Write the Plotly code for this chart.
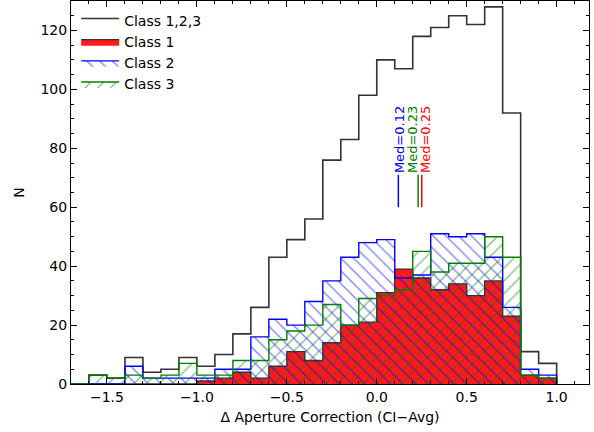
import plotly.graph_objects as go

# ---- data ----
bin_edges = [-1.7, -1.6, -1.5, -1.4, -1.3, -1.2, -1.1, -1.0, -0.9, -0.8, -0.7,
             -0.6, -0.5, -0.4, -0.3, -0.2, -0.1, 0.0, 0.1, 0.2, 0.3, 0.4,
             0.5, 0.6, 0.7, 0.8, 0.9, 1.0]
counts_all = [0, 3, 2, 9, 4, 5, 9, 6, 10, 17, 26, 43, 49, 56, 76, 83, 98, 110,
              107, 118, 121, 125, 122, 128, 92, 11, 7]
counts_c1 = [0, 0, 0, 0, 0, 0, 0, 1, 2, 4, 2, 6, 11, 8, 14, 20, 21, 31, 39, 36,
             32, 34, 30, 35, 23, 3, 2]
counts_c2 = [0, 0, 0, 6, 2, 2, 2, 2, 5, 5, 16, 22, 20, 28, 35, 43, 48, 49, 36,
             37, 51, 50, 51, 43, 26, 5, 3]
counts_c3 = [0, 3, 2, 3, 2, 3, 7, 3, 3, 8, 8, 15, 18, 20, 27, 20, 29, 30, 32,
             45, 38, 41, 41, 50, 43, 3, 2]
medians = [0.12, 0.23, 0.25]
median_labels = ["Med=0.12", "Med=0.23", "Med=0.25"]
x_tickvals = [-1.5, -1.0, -0.5, 0.0, 0.5, 1.0]
x_ticktext = ["\u22121.5", "\u22121.0", "\u22120.5", "0.0", "0.5", "1.0"]
y_tickvals = [0, 20, 40, 60, 80, 100, 120]

# ---- styles / layout constants ----
FONT = "DejaVu Sans"
med_colors = ["#0000ff", "#008000", "#ff0000"]
med_text_dx = [0.008, -0.03, 0.022]
med_line_y = [60, 71]


def step_xy(edges, counts):
    xs = [edges[0]] + list(edges[:-1]) + [edges[-1], edges[-1]]
    ys = [0] + list(counts) + [counts[-1], 0]
    return xs, ys


fig = go.Figure()

x, y = step_xy(bin_edges, counts_all)
fig.add_trace(go.Scatter(x=x, y=y, mode="lines", line_shape="hv",
                         line=dict(color="#333333", width=1.6),
                         fill="tozeroy", fillcolor="rgba(255,255,255,0)",
                         name="Class 1,2,3", legendgroup="a"))

x, y = step_xy(bin_edges, counts_c1)
fig.add_trace(go.Scatter(x=x, y=y, mode="lines", line_shape="hv",
                         line=dict(color="#333333", width=1.4),
                         fill="tozeroy", fillcolor="rgba(255,25,25,1)",
                         name="Class 1", legendgroup="b"))

x, y = step_xy(bin_edges, counts_c2)
fig.add_trace(go.Scatter(x=x, y=y, mode="lines", line_shape="hv",
                         line=dict(color="#0000ff", width=1.4),
                         fill="tozeroy", fillcolor="rgba(0,0,0,0)",
                         fillpattern=dict(shape="\\", fgcolor="#0000ff",
                                          bgcolor="rgba(0,0,0,0)",
                                          size=9, solidity=0.15),
                         name="Class 2", legendgroup="c"))

x, y = step_xy(bin_edges, counts_c3)
fig.add_trace(go.Scatter(x=x, y=y, mode="lines", line_shape="hv",
                         line=dict(color="#008000", width=1.4),
                         fill="tozeroy", fillcolor="rgba(0,0,0,0)",
                         fillpattern=dict(shape="/", fgcolor="#008000",
                                          bgcolor="rgba(0,0,0,0)",
                                          size=9, solidity=0.15),
                         name="Class 3", legendgroup="d"))

for m, lab, col, dx in zip(medians, median_labels, med_colors, med_text_dx):
    fig.add_trace(go.Scatter(x=[m, m], y=med_line_y, mode="lines",
                             line=dict(color=col, width=1.5),
                             showlegend=False, hoverinfo="skip"))
    fig.add_annotation(x=m + dx, y=med_line_y[1], text=lab, textangle=-90,
                       showarrow=False, xanchor="center", yanchor="bottom",
                       font=dict(family=FONT, size=13, color=col))

axis_common = dict(showline=True, linecolor="black", linewidth=1,
                   mirror="allticks", ticks="inside", ticklen=6,
                   tickwidth=1, tickcolor="black", showgrid=False,
                   zeroline=False,
                   tickfont=dict(family=FONT, size=14, color="black"))

fig.update_layout(
    width=594, height=432,
    margin=dict(l=71, r=5, t=1, b=48),
    paper_bgcolor="white", plot_bgcolor="white",
    font=dict(family=FONT, size=14, color="black"),
    xaxis=dict(range=[-1.7, 1.18], tickmode="array", tickvals=x_tickvals,
               ticktext=x_ticktext,
               minor=dict(tickmode="linear", tick0=0, dtick=0.1,
                          ticks="inside", ticklen=3, tickcolor="black",
                          showgrid=False),
               title=dict(text="\u0394 Aperture Correction (CI\u2212Avg)",
                          font=dict(family=FONT, size=14), standoff=8),
               **axis_common),
    yaxis=dict(range=[0, 130], tickmode="array", tickvals=y_tickvals,
               minor=dict(tickmode="linear", tick0=0, dtick=5,
                          ticks="inside", ticklen=3, tickcolor="black",
                          showgrid=False),
               title=dict(text="N", font=dict(family=FONT, size=14),
                          standoff=12),
               **axis_common),
    legend=dict(x=0.01, y=0.99, xanchor="left", yanchor="top",
                bgcolor="rgba(0,0,0,0)", borderwidth=0,
                font=dict(family=FONT, size=14), tracegroupgap=0,
                itemwidth=38, itemclick=False),
    showlegend=True,
)

fig.write_html("out.html")
